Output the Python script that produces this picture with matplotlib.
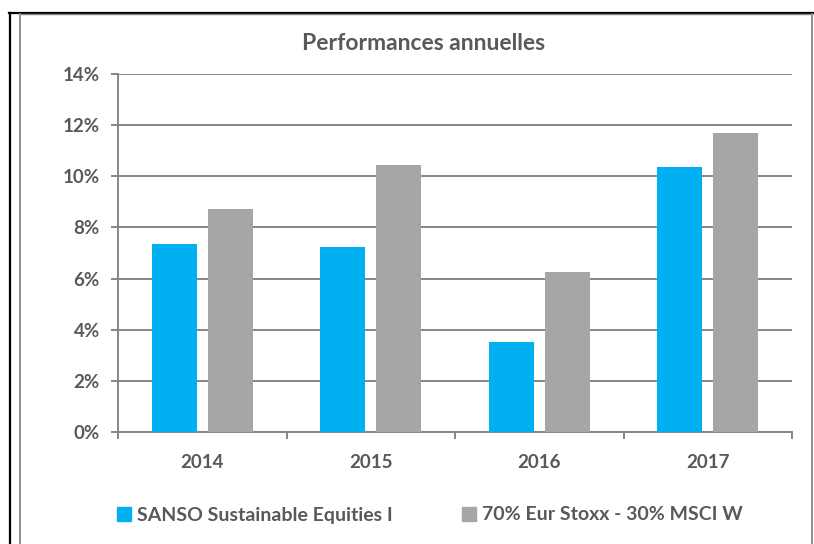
import matplotlib
matplotlib.use("Agg")
import matplotlib.pyplot as plt
import numpy as np
from matplotlib.lines import Line2D
from matplotlib.patches import Patch

years = ["2014", "2015", "2016", "2017"]
sanso = [7.35, 7.23, 3.52, 10.37]
bench = [8.72, 10.43, 6.24, 11.71]
yticks = [0, 2, 4, 6, 8, 10, 12, 14]
series_names = ["SANSO Sustainable Equities I", "70% Eur Stoxx - 30% MSCI W"]

BLUE = "#00B0F0"
GREY = "#A6A6A6"
TXT = "#595959"
GRID = "#868686"
FONT = ["Lato", "DejaVu Sans"]

W, H = 814, 544
fig = plt.figure(figsize=(W / 100, H / 100), dpi=100)
fig.patch.set_facecolor("white")

def fx(px):
    return px / W

def fy(py):
    return 1 - py / H

ax = fig.add_axes([fx(118), fy(432), fx(792) - fx(118), fy(74) - fy(432)])
x = np.arange(len(years))
bw = 0.267
off = 0.165
ax.bar(x - off, sanso, bw, color=BLUE, zorder=3)
ax.bar(x + off, bench, bw, color=GREY, zorder=3)

ax.set_xlim(-0.5, len(years) - 0.5)
ax.set_ylim(0, 14)
ax.set_yticks(yticks)
ax.set_yticklabels([f"{v}%" for v in yticks])
ax.yaxis.grid(True, color=GRID, linewidth=1.4, zorder=0)
ax.set_axisbelow(True)

for s in ["top", "right"]:
    ax.spines[s].set_visible(False)
ax.spines["left"].set_color(GRID)
ax.spines["left"].set_linewidth(1.4)
ax.spines["bottom"].set_color(GRID)
ax.spines["bottom"].set_linewidth(1.4)

ax.set_xticks(x)
ax.set_xticklabels(years)
ax.tick_params(axis="x", length=0, pad=16)
ax.set_xticks(np.arange(-0.5, len(years)), minor=True)
ax.tick_params(axis="x", which="minor", length=5, color=GRID, width=1.4)
ax.tick_params(axis="y", length=5, color=GRID, width=1.4, pad=8)

for lab in ax.get_xticklabels() + ax.get_yticklabels():
    lab.set_fontfamily(FONT)
    lab.set_fontweight("bold")
    lab.set_fontsize(13.5)
    lab.set_color(TXT)

fig.text(fx(424), fy(43), "Performances annuelles", ha="center", va="center",
         fontsize=16.5, color=TXT, family=FONT, fontweight="bold")

handles = [Patch(color=BLUE), Patch(color=GREY)]
leg = fig.legend(handles, series_names, loc="center", bbox_to_anchor=(fx(430), fy(515)),
                 ncol=2, frameon=False, handlelength=0.7, handleheight=0.7,
                 handletextpad=0.3, columnspacing=3.6,
                 prop={"family": FONT, "weight": "bold", "size": 14})
for t in leg.get_texts():
    t.set_color(TXT)

# frames
fig.add_artist(Line2D([fx(10), fx(10)], [fy(12.5), 0], color="black", linewidth=1.6,
                      transform=fig.transFigure))
fig.add_artist(Line2D([fx(9), 1], [fy(13), fy(13)], color="black", linewidth=1.6,
                      transform=fig.transFigure))
fig.add_artist(Line2D([fx(20), fx(20)], [fy(14), 0], color=GRID, linewidth=1.3,
                      transform=fig.transFigure))
fig.add_artist(Line2D([fx(812), fx(812)], [fy(14), 0], color=GRID, linewidth=1.3,
                      transform=fig.transFigure))
fig.add_artist(Line2D([fx(20), fx(812)], [fy(14), fy(14)], color=GRID, linewidth=1.0,
                      transform=fig.transFigure))

fig.savefig("out.png", dpi=100)
